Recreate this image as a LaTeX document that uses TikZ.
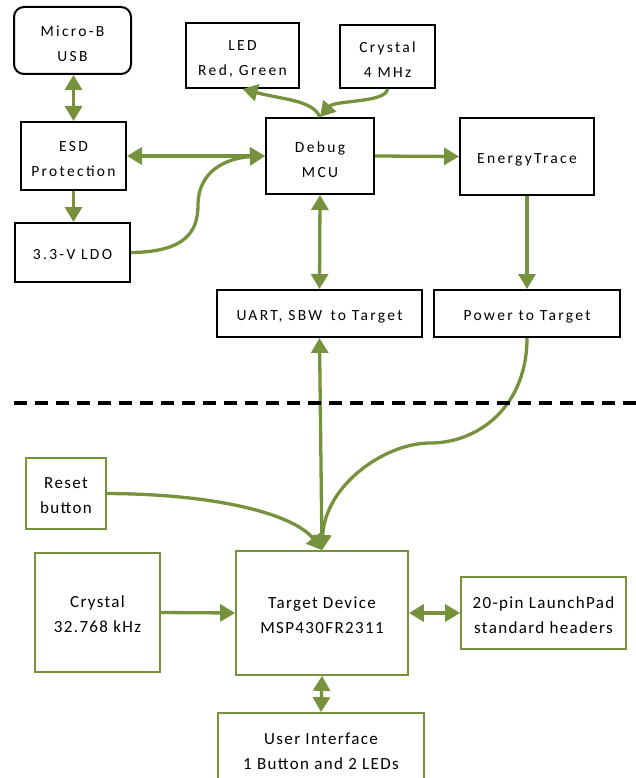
\documentclass[tikz,border=0pt]{standalone}
\usepackage{fontspec}
\setmainfont{Carlito}
\newfontfamily\topfont[LetterSpace=15]{Carlito}
\newfontfamily\botfont[LetterSpace=8]{Carlito}
\usetikzlibrary{arrows.meta}
\definecolor{ogreen}{RGB}{118,146,60}
\begin{document}
\begin{tikzpicture}[x=1pt,y=-1pt,
  tbox/.style={draw=black, line width=2pt, inner sep=0pt},
  gbox/.style={draw=ogreen, line width=1.8pt, inner sep=0pt},
  ttext/.style={inner sep=0pt, yshift=-3.5pt, align=center, font=\topfont\fontsize{15.5}{25}\selectfont},
  gtext/.style={inner sep=0pt, yshift=-2pt, align=center, font=\botfont\fontsize{17}{25}\selectfont},
  conn/.style={draw=ogreen, line width=3.3pt, -{Triangle[length=15pt,width=17pt]}},
  dconn/.style={draw=ogreen, line width=3.3pt, {Triangle[length=15pt,width=17pt]}-{Triangle[length=15pt,width=17pt]}},
  sep/.style={draw=black, line width=3.5pt, dash pattern=on 13pt off 8pt}]
\fill[white] (0,0) rectangle (636,778);
\useasboundingbox (0,0) rectangle (636,778);
% top boxes
\node[tbox, rounded corners=10pt, minimum width=117pt, minimum height=67pt, label={[ttext]center:Micro-B\\USB}] (usb) at (72.5,40.5) {};
\node[tbox, minimum width=105pt, minimum height=68pt, label={[ttext]center:ESD\\Protection}] (esd) at (73.5,156) {};
\node[tbox, minimum width=115pt, minimum height=59pt, label={[ttext, yshift=1pt]center:3.3-V LDO}] (ldo) at (72.5,252.5) {};
\node[tbox, minimum width=113pt, minimum height=65pt, label={[ttext]center:LED\\Red, Green}] (led) at (242.5,55.5) {};
\node[tbox, minimum width=95pt, minimum height=63pt, label={[ttext]center:Crystal\\4 MHz}] (xtal) at (387.5,56.5) {};
\node[tbox, minimum width=108pt, minimum height=76pt, label={[ttext]center:Debug\\MCU}] (mcu) at (320,156) {};
\node[tbox, minimum width=134pt, minimum height=77pt, label={[ttext]center:EnergyTrace}] (et) at (527,156.5) {};
\node[tbox, minimum width=205pt, minimum height=47pt, label={[ttext]center:UART, SBW\, to Target}] (uart) at (319.5,313.5) {};
\node[tbox, minimum width=186pt, minimum height=47pt, label={[ttext]center:Power to Target}] (pwr) at (527,313.5) {};
% bottom boxes
\node[gbox, minimum width=80pt, minimum height=71pt, label={[gtext]center:Reset\\button}] (reset) at (66,493.5) {};
\node[gbox, minimum width=125pt, minimum height=119pt, label={[gtext]center:Crystal\\32.768 kHz}] (xtal32) at (97.5,612.5) {};
\node[gbox, minimum width=172pt, minimum height=124pt, label={[gtext]center:Target Device\\MSP430FR2311}] (target) at (322,613) {};
\node[gbox, minimum width=165pt, minimum height=72pt, label={[gtext]center:20-pin LaunchPad\\standard headers}] (pins) at (543.5,613) {};
\node[gbox, minimum width=206pt, minimum height=74pt, label={[gtext, yshift=1pt]center:User Interface\\1 Button and 2 LEDs}] (ui) at (321,750) {};
% connectors top
\draw[dconn] (esd.north |- usb.south) -- (esd.north);
\draw[conn] (esd.south) -- (ldo.north -| esd.south);
\draw[dconn] (esd.east) -- (mcu.west);
\draw[conn] (ldo.east) .. controls (185,252) and (198,232) .. (198,205) .. controls (198,172) and (225,158) .. (mcu.west);
\draw[conn] (mcu.north) .. controls (312,100) and (285,100) .. (led.south);
\draw[conn] (xtal.south) .. controls (386,103) and (335,100) .. (mcu.north);
\draw[conn] (mcu.east) -- (et.west);
\draw[dconn] (mcu.south) -- (uart.north);
\draw[conn] (et.south) -- (pwr.north);
% connectors bottom
\draw[dconn] (target.north) -- (uart.south);
\draw[conn] (pwr.south) .. controls (527,405) and (480,443) .. (430,443) .. controls (385,443) and (325,485) .. (target.north);
\draw[conn] (reset.east) .. controls (220,494) and (295,515) .. (target.north);
\draw[conn] (xtal32.east) -- (target.west);
\draw[dconn] (target.east) -- (pins.west);
\draw[dconn] (target.south) -- (ui.north);
% separator
\coordinate (dl) at (14,403);
\coordinate (dr) at (636,403);
\draw[sep] (dl) -- (dr);
\end{tikzpicture}
\end{document}
